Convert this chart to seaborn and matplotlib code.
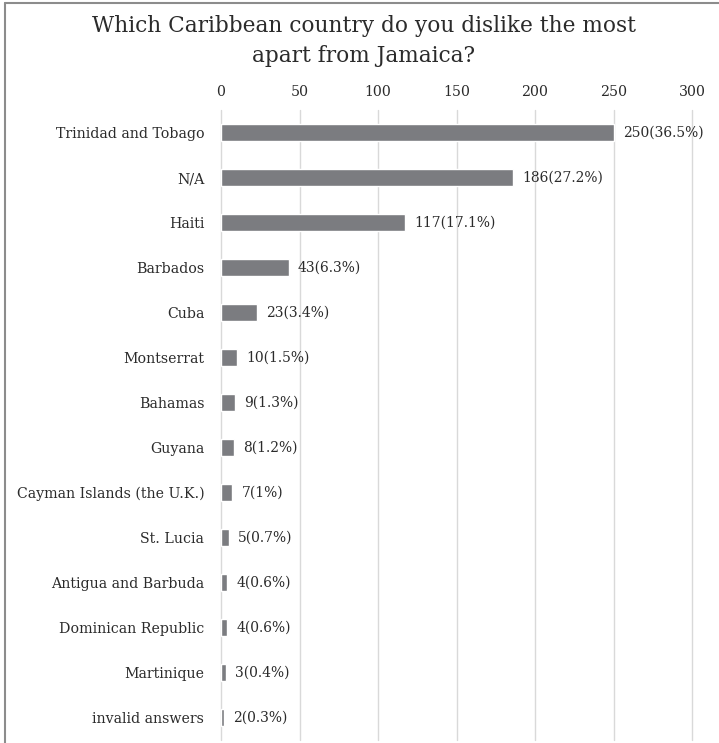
import matplotlib
matplotlib.use("Agg")
import matplotlib.pyplot as plt
import seaborn as sns
import pandas as pd
from matplotlib.lines import Line2D

countries = ["Trinidad and Tobago", "N/A", "Haiti", "Barbados", "Cuba", "Montserrat",
             "Bahamas", "Guyana", "Cayman Islands (the U.K.)", "St. Lucia",
             "Antigua and Barbuda", "Dominican Republic", "Martinique", "invalid answers"]
counts = [250, 186, 117, 43, 23, 10, 9, 8, 7, 5, 4, 4, 3, 2]
percents = ["36.5%", "27.2%", "17.1%", "6.3%", "3.4%", "1.5%", "1.3%", "1.2%", "1%",
            "0.7%", "0.6%", "0.6%", "0.4%", "0.3%"]
xticks = [0, 50, 100, 150, 200, 250, 300]
title = "Which Caribbean country do you dislike the most\napart from Jamaica?"

sns.set_theme(style="white")
plt.rcParams["font.family"] = ["DejaVu Serif"]

df = pd.DataFrame({"country": countries, "count": counts})

W, H = 719, 743
fig = plt.figure(figsize=(W / 100, H / 100), dpi=100)
ax = fig.add_axes([221 / W, 1 - 740 / H, (692 - 221) / W, (740 - 110) / H])

sns.barplot(data=df, x="count", y="country", orient="h", color="#7b7c80",
            width=0.36, saturation=1, ax=ax, zorder=3)

ax.set_xlim(0, 300)
ax.set_ylim(13.5, -0.5)
ax.set_xticks(xticks)
ax.xaxis.tick_top()
ax.grid(axis="x", color="#d9d9d9", linewidth=1, zorder=0)
ax.grid(axis="y", visible=False)
ax.set_axisbelow(True)
for gl in ax.get_xgridlines():
    gl.set_clip_on(False)
for s in ax.spines.values():
    s.set_visible(False)
ax.tick_params(axis="both", length=0, labelsize=10.2, colors="#2b2b2b")
ax.tick_params(axis="x", pad=8, labelsize=10.2)
ax.tick_params(axis="y", pad=12)
ax.set_xlabel("")
ax.set_ylabel("")

for i, (c, p) in enumerate(zip(counts, percents)):
    ax.text(c + 6, i, f"{c}({p})", va="center", ha="left", fontsize=10, color="#2b2b2b")

fig.text(0.506, 1 - 41 / H, title, ha="center", va="center", fontsize=15.6,
         color="#2b2b2b", linespacing=1.5)

fig.add_artist(Line2D([5 / W, 5 / W], [0, 1 - 3 / H], transform=fig.transFigure,
                      color="#8c8c8c", linewidth=1.5))
fig.add_artist(Line2D([5 / W, 1], [1 - 3 / H, 1 - 3 / H], transform=fig.transFigure,
                      color="#8c8c8c", linewidth=1.5))

fig.savefig("out.png", dpi=100)
